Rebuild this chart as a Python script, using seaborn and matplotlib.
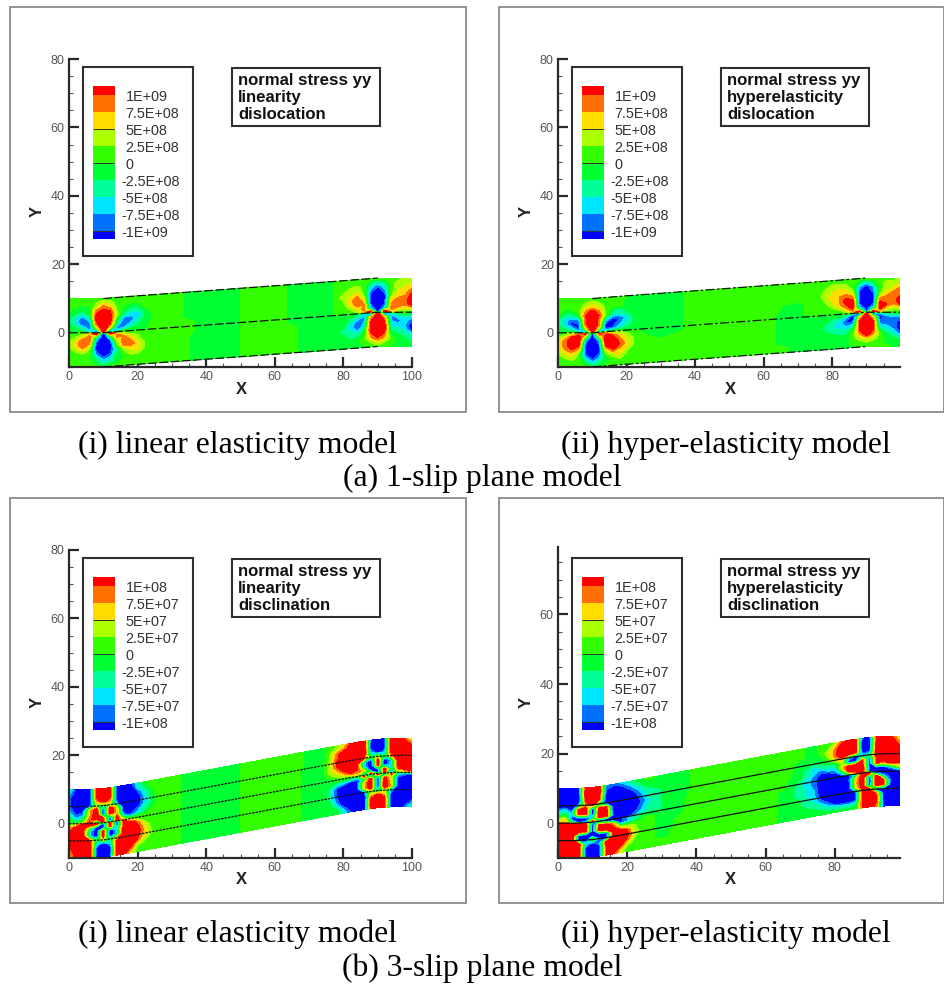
import numpy as np
import seaborn as sns
import matplotlib
matplotlib.use("Agg")
import matplotlib.pyplot as plt
from matplotlib.colors import ListedColormap, BoundaryNorm
from matplotlib.patches import Rectangle
from matplotlib.ticker import MultipleLocator

# grid of the strip, x along the strip and v across it
x_left = [0, 2, 4, 6, 8, 10, 12, 14, 16, 18, 20, 22, 24, 26]
x_mid = [30, 35, 40, 45, 50, 55, 60, 65, 70]
x_right = [74, 76, 78, 80, 82, 84, 86, 88, 90, 92, 94, 96, 98, 100]
v_rows = [10, 8.75, 7.5, 6.25, 5, 3.75, 2.5, 1.25, 0.3, -0.3, -1.25, -2.5, -3.75, -5, -6.25, -7.5, -8.75, -10]

# centre line of the strip
centre_x = [0, 5, 10, 15, 20, 80, 85, 90, 95, 100]
centre_1slip = [0, 0, 0, 0.4, 0.8, 5.2, 5.6, 6, 6, 6]
centre_3slip = [0, 0, 0.3, 1, 1.9, 13.1, 14, 14.7, 15, 15]

# stress values, in steps of 1.25E+08 (top) and 1.25E+07 (bottom)
ai_left = [
    [1, 1, 1, 1, 1, 1, 1, 1, 1, 1, 1, 1, 1, 1],
    [1, 1, 1, 1, 2, 4, 3, 1, 1, 1, 1, 1, 1, 1],
    [1, 0, -1, 0, 3, 7, 5, 1, 0, -1, -1, 1, 1, 1],
    [0, -1, -2, -1, 7, 9, 8, 2, -1, -3, -3, -1, 1, 1],
    [-1, -3, -5, -2, 9, 12, 9, 3, -3, -5, -5, -2, 0, 1],
    [-2, -5, -8, -5, 9, 12, 10, -1, -7, -7, -5, -2, 0, 1],
    [-2, -4, -8, -7, 7, 12, 8, -3, -8, -6, -3, -1, 0, 1],
    [-1, -2, -4, -7, 2, 11, 3, -7, -6, -3, -2, -1, 1, 1],
    [-1, -1, -2, -5, -11, 12, -11, -5, -2, -1, -1, -1, 1, 1],
    [1, 1, 2, 5, 11, -12, 11, 5, 2, 1, 1, 1, 1, 1],
    [1, 2, 4, 7, -2, -11, -3, 7, 6, 3, 2, 1, 1, 1],
    [2, 4, 8, 7, -7, -12, -8, 3, 8, 6, 3, 1, 1, 1],
    [2, 5, 8, 5, -9, -12, -10, 1, 7, 7, 5, 2, 1, 1],
    [1, 3, 5, 2, -9, -12, -9, -3, 3, 5, 5, 2, 1, 1],
    [0, 1, 2, 1, -7, -10, -8, -2, 1, 3, 3, 1, 1, 1],
    [1, 0, 1, 0, -3, -7, -5, -1, 0, 1, 1, 1, 1, 1],
    [1, 1, 1, 1, -2, -4, -3, -1, 1, 1, 1, 1, 1, 1],
    [1, 1, 1, 1, 1, -1, 1, 1, 1, 1, 1, 1, 1, 1],
]
ai_mid = [
    [1, -0.5, -1, -1, 0, 1, 1, -0.5, -1],
    [1, -0.5, -1, -1, 0, 1, 1, -0.5, -1],
    [1, -0.5, -1, -1, 0, 1, 1, -0.5, -1],
    [1, -0.5, -1, -1, 0, 1, 1, -0.5, -1],
    [1, -0.5, -1, -1, 0, 1, 1, -0.5, -1],
    [1, -0.5, -1, -1, 0, 1, 1, -0.5, -1],
    [1, -0.5, -1, -1, 0, 1, 1, -0.5, -1],
    [1, 0.5, -1, -1, 0, 1, 1, -0.5, -1],
    [1, 0.5, -1, -1, 0, 1, 1, -0.5, -1],
    [1, 0.5, -1, -1, 0, 1, 1, -0.5, -1],
    [1, 0.5, -1, -1, 0, 1, 1, -0.5, -1],
    [1, 0, -1, -1, 0, 1, 1, 0.5, -1],
    [1, 0, -1, -1, 0, 1, 1, 0.5, -1],
    [1, 0, -1, -1, 0, 1, 1, 0.5, -1],
    [1, 0, -1, -1, 0, 1, 1, 0.5, -1],
    [1, 0, -1, -1, 0, 1, 1, 0.5, -1],
    [1, 0, -1, -1, 0, 1, 1, 0.5, -1],
    [1, 0, -1, -1, 0, 1, 1, 0.5, -1],
]
ai_right = [
    [-1, -1, 1, 1, 1, 1, 1, 1, 1, 1, 1, 1, 3, 3],
    [-1, -1, 1, 1, 1, 1, 1, -2, -4, -2, 1, 3, 3, 4],
    [-1, -1, 1, 1, 2, 3, 1, -5, -8, -5, 1, 3, 4, 5],
    [-1, -1, 1, 2, 3, 4, 1, -7, -11, -7, 1, 4, 5, 7],
    [-1, -1, 1, 3, 4, 6, 2, -9, -12, -9, 2, 5, 6, 9],
    [-1, -1, 1, 2, 5, 8, 5, -9, -12, -9, 5, 7, 7, 10],
    [-1, -1, 1, 1, 4, 7, 6, -8, -12, -8, 6, 8, 7, 10],
    [-1, -1, 1, 1, 2, 4, 7, -5, -11, -5, 7, 5, 4, 5],
    [-1, -1, 1, 1, 1, 2, 5, 11, -12, 11, 5, 2, 1, 1],
    [-1, -1, -1, -1, -1, -2, -5, -11, 12, -11, -5, -2, -1, -1],
    [-1, -1, -1, -1, -2, -4, -7, 5, 11, 5, -7, -5, -4, -5],
    [-1, -1, -1, -1, -4, -7, -6, 8, 12, 8, -6, -7, -5, -8],
    [-1, -1, -1, -2, -5, -8, -5, 9, 12, 9, -5, -5, -6, -10],
    [-1, -1, -1, -3, -4, -6, -2, 9, 12, 9, -3, -3, -5, -10],
    [-1, -1, -1, -2, -3, -3, -1, 7, 11, 7, -1, -2, -3, -5],
    [-1, -1, -1, -1, -2, -1, 1, 5, 8, 5, 1, -1, -2, -3],
    [-1, -1, -1, -1, -1, -1, 1, 2, 4, 2, 1, -1, -1, -2],
    [-1, -1, -1, -1, -1, -1, -1, 1, 1, 1, -1, -1, -1, -1],
]

aii_left = [
    [1, 1, 1, 1, 1, 1, 1, 1, 1, 1, 1, -1, -1, -1],
    [1, 1, 1, 1, 2, 3, 2, 1, 1, 1, -1, -1, -1, -1],
    [1, 1, 1, 1, 3, 5, 4, 1, 1, 1, -1, -1, -1, -1],
    [1, -1, -1, 1, 6, 9, 6, 1, -2, -3, -1, -1, -1, -1],
    [1, -3, -3, -1, 8, 11, 8, 2, -4, -4, -3, -1, -1, -1],
    [-2, -5, -7, -6, 7, 12, 7, -4, -8, -8, -5, -2, -1, -1],
    [-2, -5, -9, -8, 7, 12, 7, -8, -9, -7, -4, -2, -1, -1],
    [-1, -3, -5, -9, 4, 11, 4, -9, -8, -5, -3, -1, -1, -1],
    [-1, -1, -2, -5, -9, 10, -9, -5, -3, -2, -1, -1, -1, -1],
    [1, 1, 3, 6, 9, -10, 9, 6, 3, 2, 1, 1, -1, -1],
    [2, 4, 8, 10, 2, -11, 2, 10, 8, 5, 3, 1, 1, -1],
    [4, 7, 10, 11, -6, -12, -6, 11, 10, 7, 4, 2, 1, 1],
    [4, 7, 10, 9, -8, -12, -8, 10, 11, 8, 5, 2, 1, 1],
    [3, 6, 8, 5, -8, -12, -8, 5, 9, 6, 4, 1, 1, 1],
    [2, 4, 5, 2, -8, -11, -8, 2, 5, 5, 2, 1, 1, 1],
    [1, 2, 3, 1, -5, -9, -6, -1, 2, 3, 1, 1, 1, 1],
    [1, 1, 1, 1, -2, -5, -3, -1, 1, 1, 1, 1, 1, 1],
    [1, 1, 1, 1, 1, -2, -1, 1, 1, 1, 1, 1, 1, 1],
]
aii_mid = [
    [-1, -0.5, 1, 1, 1, 1, 1, 1, 1],
    [-1, -0.5, 1, 1, 1, 1, 1, 1, 1],
    [-1, -0.5, 1, 1, 1, 1, 1, 1, 1],
    [-1, -0.5, 1, 1, 1, 1, 1, 1, 1],
    [-1, -0.5, 1, 1, 1, 1, 1, 1, 1],
    [-1, -0.5, 1, 1, 1, 1, 1, 0, -1],
    [-1, -0.5, 1, 1, 1, 1, 1, 0, -1],
    [-1, -0.5, 1, 1, 1, 1, 1, -0.5, -1],
    [-1, -0.5, 1, 1, 1, 1, 1, -0.5, -1],
    [-1, -0.5, 1, 1, 1, 1, 1, -0.5, -1],
    [-1, -0.5, 1, 1, 1, 1, 1, -0.5, -1],
    [-1, 1, 1, 1, 1, 1, 1, -0.5, -1],
    [1, 1, 1, 1, 1, 1, 1, -0.5, -1],
    [1, 1, 1, 1, 1, 1, 1, -0.5, -1],
    [1, 1, 1, 1, 1, 1, 1, -0.5, -1],
    [1, 1, 1, 1, 1, 1, 1, -0.5, -1],
    [1, 1, 1, 1, 1, 1, 1, 1, -1],
    [1, 1, 1, 1, 1, 1, 1, 1, -1],
]
aii_right = [
    [1, 1, 1, 1, 1, 1, 1, 1, 1, 1, 1, 1, 1, 3],
    [1, 1, 2, 2, 2, 2, 1, -2, -5, -2, 1, 3, 3, 4],
    [1, 1, 2, 3, 4, 3, 1, -6, -9, -6, 1, 3, 4, 6],
    [1, 1, 3, 4, 5, 5, 3, -8, -12, -7, 1, 4, 6, 7],
    [1, 1, 3, 5, 6, 7, 6, -9, -12, -9, 3, 6, 7, 8],
    [1, 1, 2, 4, 6, 9, 9, -9, -12, -8, 7, 8, 7, 10],
    [1, 1, 1, 3, 5, 8, 10, -8, -12, -8, 10, 8, 6, 9],
    [1, 1, 1, 1, 2, 5, 8, -4, -9, -4, 9, 4, 3, 4],
    [1, 1, 1, 1, 1, 2, 5, 10, -9, 10, 5, 2, 1, 1],
    [-1, -1, -1, -1, -1, -2, -6, -10, 10, -10, -6, -3, -2, -2],
    [-1, -1, -1, -2, -3, -6, -10, 4, 11, 4, -9, -7, -6, -6],
    [-1, -1, -2, -3, -5, -8, -8, 8, 12, 8, -8, -7, -7, -9],
    [-1, -1, -3, -4, -5, -6, -4, 8, 12, 8, -5, -6, -7, -10],
    [-1, -1, -2, -3, -3, -3, -1, 8, 12, 8, -2, -4, -6, -10],
    [-1, -1, -1, -1, -2, -2, 1, 6, 10, 6, 1, -2, -4, -7],
    [-1, -1, -1, -1, -1, -1, 1, 3, 5, 3, 1, -1, -2, -3],
    [-1, -1, -1, -1, -1, -1, 1, 1, 2, 1, 1, -1, -1, -1],
    [-1, -1, -1, -1, -1, -1, -1, 1, 1, 1, 1, 1, -1, -1],
]

bi_left = [
    [-3, -9, -11, -11, 8, 11, 8, -10, -11, -9, -4, -1, 1, 1],
    [-5, -10, -12, -12, 9, 12, 9, -10, -12, -11, -5, -2, 1, 1],
    [-7, -11, -12, -12, 9, 12, 9, -10, -12, -11, -8, -4, -1, 1],
    [-7, -11, -12, -11, 5, 10, 6, -10, -12, -12, -10, -5, -1, 1],
    [-7, -11, -12, -8, 2, -4, 3, -6, -12, -12, -10, -6, -2, 1],
    [-6, -10, -9, 5, 11, -10, 11, 5, -10, -12, -10, -5, -2, 1],
    [-3, -8, -7, 5, 11, -10, 11, 4, -10, -11, -7, -3, -1, 1],
    [-1, -5, -3, 7, 10, 9, -10, 9, -5, -8, -5, -2, 1, 1],
    [-1, -1, 1, 9, -10, 10, -10, 10, 3, -1, 1, 1, 1, 1],
    [1, 3, 9, 11, 10, -10, 10, -10, 9, 3, 1, 1, 1, 1],
    [5, 10, 10, 2, -9, -10, 10, -9, 9, 10, 7, 2, 1, 1],
    [8, 11, 9, -5, -11, 10, -11, -4, 10, 12, 9, 4, 1, 1],
    [9, 11, 10, -5, -11, 10, -11, -5, 10, 12, 10, 5, 2, 1],
    [9, 11, 12, 8, -2, 4, -3, 6, 12, 12, 9, 5, 2, 1],
    [8, 11, 12, 11, -5, -10, -6, 10, 12, 12, 8, 3, 1, 1],
    [7, 11, 12, 12, -9, -12, -9, 10, 12, 10, 4, 1, 1, 1],
    [5, 10, 12, 12, -9, -12, -9, 10, 11, 7, 1, 1, 1, 1],
    [3, 9, 11, 11, -8, -11, -8, 10, 9, 4, 1, 1, 1, 1],
]
bi_mid = [
    [1, -1, -1, -1, 0, 1, 1, 1, -0.5],
    [1, -1, -1, -1, 0, 1, 1, 1, -0.5],
    [1, -1, -1, -1, 0, 1, 1, 1, -0.5],
    [1, -1, -1, -1, 0, 1, 1, 1, -0.5],
    [1, -1, -1, -1, 0, 1, 1, 1, -1],
    [1, -1, -1, -1, 0, 1, 1, 1, -1],
    [1, -1, -1, -1, 0, 1, 1, 1, -1],
    [1, -1, -1, -1, 0, 1, 1, 1, -1],
    [1, -1, -1, -1, 0, 1, 1, 1, -1],
    [1, -1, -1, -1, 0, 1, 1, 1, -1],
    [1, -1, -1, -1, 0, 1, 1, 1, -1],
    [1, -1, -1, -1, 0, 1, 1, 1, -1],
    [1, -1, -1, -1, 0, 1, 1, 1, -1],
    [1, -1, -1, -1, 0, 1, 1, 1, -1],
    [1, -1, -1, -1, 0, 1, 1, 1, -1],
    [1, -1, -1, -1, 0, 1, 1, 1, -1],
    [1, -1, -1, -1, 0, 1, 1, 1, -1],
    [1, -1, -1, -1, 0, 1, 1, 1, -1],
]
bi_right = [
    [-1, 1, 2, 4, 8, 11, 11, -8, -11, -8, 10, 11, 7, 3],
    [-1, 1, 3, 6, 10, 12, 12, -9, -12, -9, 10, 12, 10, 6],
    [-1, 2, 7, 10, 12, 12, 12, -9, -12, -9, 10, 12, 11, 9],
    [-1, 2, 7, 11, 12, 12, 11, -5, -10, -6, 10, 12, 12, 10],
    [-1, 3, 8, 11, 12, 12, 8, -2, 4, -3, 6, 12, 12, 11],
    [-1, 3, 8, 10, 12, 10, -5, -11, 10, -11, -5, 10, 12, 11],
    [-1, 3, 5, 9, 11, 9, -5, -11, 10, -11, -4, 10, 11, 11],
    [-1, 1, 3, 5, 8, 7, 5, -9, -9, 10, -5, 8, 10, 11],
    [-1, -1, 1, 1, 2, 4, -9, 10, -10, 10, -9, 2, 4, 7],
    [-1, -1, -1, -1, -2, -4, 9, -10, 10, -10, 9, -4, -6, -7],
    [-1, -1, -3, -5, -8, -8, -3, 10, -10, 9, 3, -8, -10, -11],
    [-1, -3, -8, -11, -12, -9, 5, 11, -10, 11, 4, -10, -11, -11],
    [-1, -3, -8, -11, -12, -10, 5, 11, -10, 11, 5, -11, -12, -11],
    [-1, -3, -8, -11, -12, -12, -8, 2, -4, 3, -6, -12, -12, -11],
    [-1, -2, -7, -11, -12, -12, -11, 5, 10, 6, -10, -12, -12, -10],
    [-1, -1, -5, -10, -12, -12, -12, 9, 12, 9, -10, -12, -11, -9],
    [-1, -1, -2, -6, -10, -12, -12, 9, 12, 9, -10, -12, -10, -6],
    [-1, -1, -1, -4, -8, -11, -11, 8, 11, 8, -10, -11, -7, -3],
]

bii_left = [
    [-9, -11, -11, -9, 9, 11, 9, -7, -7, -6, -4, -2, -1, 1],
    [-10, -12, -12, -9, 10, 12, 10, -8, -10, -9, -7, -4, -2, -1],
    [-11, -12, -12, -10, 10, 12, 9, -10, -12, -11, -9, -7, -4, -2],
    [-11, -12, -12, -11, 9, 11, 8, -10, -12, -12, -11, -9, -6, -3],
    [-10, -11, -11, -6, 5, 10, -4, -11, -12, -12, -12, -10, -7, -4],
    [-7, -5, -9, 8, 11, -10, 10, 9, -11, -12, -12, -11, -8, -5],
    [-4, -2, -5, 9, 11, -11, 11, 10, -10, -12, -12, -10, -7, -4],
    [1, 5, -9, -10, -9, -5, 11, 10, -9, -12, -11, -9, -6, -3],
    [3, 6, -3, -9, -9, 9, -9, -9, -10, -11, -10, -7, -4, -2],
    [9, 11, 10, 9, 9, -9, -2, -8, -9, -9, -6, -4, -2, -1],
    [10, 11, 11, 11, 10, -10, 10, 10, 5, -9, -6, -3, -1, 1],
    [10, 12, 12, 11, 9, -10, 11, 11, 9, 3, 2, 2, 1, 1],
    [10, 12, 12, -9, -10, -10, -9, -9, 9, 10, 8, 3, 1, 1],
    [10, 12, 12, -9, -10, 3, -8, -9, 10, 12, 9, 4, 1, 1],
    [10, 12, 12, 11, -5, -10, -6, 10, 12, 12, 8, 2, 1, 1],
    [9, 12, 12, 11, -9, -12, -9, 9, 12, 10, 4, 1, 1, 1],
    [9, 12, 12, 11, -9, -12, -9, 9, 11, 6, 1, 1, 1, 1],
    [9, 11, 12, 10, -8, -11, -8, 9, 8, 3, 1, 1, 1, 1],
]
bii_mid = [
    [-1, -1, 0.5, 1, 1, 1, 1, 1, 0.5],
    [-1, -1, 0.5, 1, 1, 1, 1, 1, 0.5],
    [-1, -1, 0.5, 1, 1, 1, 1, 1, 0.5],
    [-2, -1, 0.5, 1, 1, 1, 1, 1, -0.5],
    [-2, -1, 0.5, 1, 1, 1, 1, 1, -0.5],
    [-2, -1, 1, 1, 1, 1, 1, 1, -1],
    [-2, -1, 1, 1, 1, 1, 1, 1, -1],
    [-2, -0.5, 1, 1, 1, 1, 1, 0.5, -2],
    [-2, -0.5, 1, 1, 1, 1, 1, 0.5, -3],
    [-1, -0.5, 1, 1, 1, 1, 1, 0.5, -3],
    [-1, -0.5, 1, 1, 1, 1, 1, -0.5, -3],
    [-1, 0, 1, 1, 1, 1, 1, -0.5, -3],
    [-1, 0.5, 1, 1, 1, 1, 1, -0.5, -3],
    [-1, 0.5, 1, 1, 1, 1, 1, -0.5, -2],
    [-1, 1, 1, 1, 1, 1, 1, -0.5, -2],
    [-1, 1, 1, 1, 1, 1, 1, -0.5, -1],
    [1, 1, 1, 1, 1, 1, 1, -0.5, -1],
    [1, 1, 1, 1, 1, 1, 1, -0.5, -1],
]
bii_right = [
    [-1, 1, 1, 2, 7, 10, 9, -9, -9, 9, 11, 9, 5, 3],
    [-1, 1, 1, 5, 10, 12, 9, -11, -10, 9, 12, 11, 7, 4],
    [-1, 1, 3, 7, 11, 12, 9, -11, -10, 10, 12, 12, 9, 5],
    [-1, -1, 2, 7, 11, 12, 9, -10, -9, 10, 12, 12, 10, 8],
    [-2, -1, 1, 4, 7, -5, -9, -5, -3, 9, 12, 12, 11, 9],
    [-5, -3, -3, -2, 2, -9, -10, 8, -9, 9, 11, 11, 10, 9],
    [-5, -7, -5, -5, 5, 10, 10, 9, -10, 9, 5, 10, 9, 4],
    [-7, -9, -10, -8, -3, 10, 10, 10, -9, -9, -9, -5, 1, 3],
    [-7, -10, -11, -10, -8, -1, 7, 10, -9, -9, -9, -10, -9, -5],
    [-7, -10, -11, -11, -9, -9, -5, 10, 9, -9, -9, -10, -9, -8],
    [-7, -10, -12, -12, -11, -8, 3, 11, -9, 11, -5, -9, -11, -10],
    [-6, -10, -12, -12, -12, -9, 5, 11, -11, 11, 8, -8, -11, -11],
    [-6, -10, -12, -12, -12, -9, 4, 10, -10, 11, 8, -9, -12, -11],
    [-5, -9, -11, -12, -12, -11, -7, 9, 9, -9, -10, -11, -12, -11],
    [-4, -7, -9, -11, -12, -12, -9, 9, 11, 7, -9, -12, -12, -11],
    [-3, -4, -6, -9, -10, -10, -8, 9, 12, 9, -9, -12, -12, -10],
    [-1, -2, -3, -3, -4, -4, -3, 9, 11, 8, -9, -11, -11, -9],
    [-1, -1, -1, -1, -1, -1, -1, 8, 10, 7, -8, -10, -10, -8],
]

# legend
legend_cells = [9, 7, 7, 5, 5, 3, 3, 1, 1, -1, -1, -3, -3, -5, -5, -7, -7, -9]
labels_e9 = ["1E+09", "7.5E+08", "5E+08", "2.5E+08", "0", "-2.5E+08", "-5E+08", "-7.5E+08", "-1E+09"]
labels_e8 = ["1E+08", "7.5E+07", "5E+07", "2.5E+07", "0", "-2.5E+07", "-5E+07", "-7.5E+07", "-1E+08"]
levels = [-30, -8, -6, -4, -2, 0, 2, 4, 6, 8, 30]
band_colors = ["#0000ff", "#0070ff", "#00e5ff", "#00ff99", "#00ff33",
               "#33ff00", "#aaff00", "#ffdd00", "#ff7000", "#ff0000"]

captions = ["(i) linear elasticity model", "(ii) hyper-elasticity model"]

W, H = 944, 985
sns.set_theme(style="white")
plt.rcParams["font.family"] = ["Liberation Sans", "DejaVu Sans"]

fig = plt.figure(figsize=(W / 100, H / 100), dpi=100)
cmap = ListedColormap(band_colors)
norm = BoundaryNorm(levels, cmap.N)


def px_axes(x0, y0, x1, y1):
    return fig.add_axes([x0 / W, 1 - y1 / H, (x1 - x0) / W, (y1 - y0) / H])


def draw_panel(pos, xmax, ymax, left, mid, right, centre, slips, edges, dash, yticks):
    ax = px_axes(*pos)
    xs = np.array(x_left + x_mid + x_right, dtype=float)
    grid = np.hstack([np.array(left), np.array(mid), np.array(right)])
    X, V = np.meshgrid(xs, v_rows)
    Y = V + np.interp(X, centre_x, centre)
    ax.contourf(X, Y, grid, levels=levels, colors=band_colors)
    line_x = np.array(centre_x, dtype=float)
    line_y = np.array(centre, dtype=float)
    for s in slips:
        ax.plot(line_x, s + line_y, color="#111111", lw=0.9, ls=dash, zorder=3)
    # outer edges only show on the sloped part
    inner = (line_x >= 10) & (line_x <= 90)
    for s in edges:
        ax.plot(line_x[inner], s + line_y[inner], color="#111111", lw=0.9, ls=dash, zorder=3)
    ax.set_xlim(0, xmax)
    ax.set_ylim(-10, ymax)
    ax.patch.set_alpha(0)
    for side in ["top", "right"]:
        ax.spines[side].set_visible(False)
    for side in ["left", "bottom"]:
        ax.spines[side].set_color("#2a2a2a")
        ax.spines[side].set_linewidth(1.6)
    ax.set_xticks([t for t in [0, 20, 40, 60, 80, 100] if t <= xmax])
    ax.set_yticks(yticks)
    ax.xaxis.set_minor_locator(MultipleLocator(5))
    ax.yaxis.set_minor_locator(MultipleLocator(5))
    ax.tick_params(which="major", direction="in", length=7, width=1.6, color="#2a2a2a",
                   labelsize=9, labelcolor="#555555", bottom=True, left=True, pad=3)
    ax.tick_params(which="minor", direction="in", length=3, width=0.8, color="#555555",
                   bottom=True, left=True)
    return ax


def draw_legend(dx, dy, cells, names):
    strip = px_axes(93 + dx, 86 + dy, 115 + dx, 239 + dy)
    sns.heatmap(np.array(cells).reshape(-1, 1), ax=strip, cmap=cmap, norm=norm, cbar=False,
                xticklabels=False, yticklabels=False)
    strip.hlines([5, 9, 17], 0, 1, color="#333333", lw=0.7)
    for i, name in enumerate(names):
        x = 121 if name.startswith("-") else 125.5
        over.text(x + dx, 97 + 17 * i + dy, name, fontsize=10.4, color="#333333", ha="left", va="center")


panels = [
    ((69, 59, 412, 367), 100, 80, ai_left, ai_mid, ai_right, centre_1slip, [0], [10, -10], (0, (7, 2)), [0, 20, 40, 60, 80]),
    ((558, 59, 900, 367), 99.8, 80, aii_left, aii_mid, aii_right, centre_1slip, [0], [10, -10], (0, (7, 2, 2, 2)), [0, 20, 40, 60, 80]),
    ((69, 550, 412, 858), 100, 80, bi_left, bi_mid, bi_right, centre_3slip, [5, 0, -5], [], (0, (2, 0.8)), [0, 20, 40, 60, 80]),
    ((558, 547, 900, 858), 98.8, 79.4, bii_left, bii_mid, bii_right, centre_3slip, [5, 0, -5], "-" and [], "-", [0, 20, 40, 60]),
]
for p in panels:
    draw_panel(*p)

# frames, boxes and captions in pixel coordinates
over = px_axes(0, 0, W, H)
over.set_xlim(0, W)
over.set_ylim(H, 0)
over.axis("off")
over.patch.set_alpha(0)

offsets = [(0, 0), (489, 0), (0, 491), (489, 491)]
frame_w = [456, 445, 456, 445]
box_text = [
    "normal stress yy\nlinearity\ndislocation",
    "normal stress yy\nhyperelasticity\ndislocation",
    "normal stress yy\nlinearity\ndisclination",
    "normal stress yy\nhyperelasticity\ndisclination",
]
legend_names = [labels_e9, labels_e9, labels_e8, labels_e8]

for i, (dx, dy) in enumerate(offsets):
    over.add_patch(Rectangle((10 + dx, 7 + dy), frame_w[i], 405, fill=False, ec="#8a8a8a", lw=1.3))
    over.add_patch(Rectangle((83 + dx, 67 + dy), 110, 189, fill=False, ec="#2f2f2f", lw=1.5))
    over.add_patch(Rectangle((232 + dx, 68 + dy), 148, 58, fill=False, ec="#2f2f2f", lw=1.5))
    over.text(238 + dx, 97.5 + dy, box_text[i], fontsize=12.1, fontweight="bold", color="#111111",
              va="center", ha="left", linespacing=1.17)
    over.text(241 + dx, 389 + dy, "X", fontsize=12, fontweight="bold", color="#222222", ha="center", va="center")
    over.text(37 + dx, 211 + dy, "Y", fontsize=12, fontweight="bold", color="#222222", ha="center", va="center", rotation=90)
    draw_legend(dx, dy, legend_cells, legend_names[i])

for y, sub, sub_y in [(445, "(a) 1-slip plane model", 478), (934, "(b) 3-slip plane model", 968)]:
    over.text(238, y, captions[0], family="Liberation Serif", fontsize=22.8, color="black", ha="center", va="center")
    over.text(726, y, captions[1], family="Liberation Serif", fontsize=22.8, color="black", ha="center", va="center")
    over.text(482, sub_y, sub, family="Liberation Serif", fontsize=22.8, color="black", ha="center", va="center")

fig.savefig("out.png", dpi=100)
